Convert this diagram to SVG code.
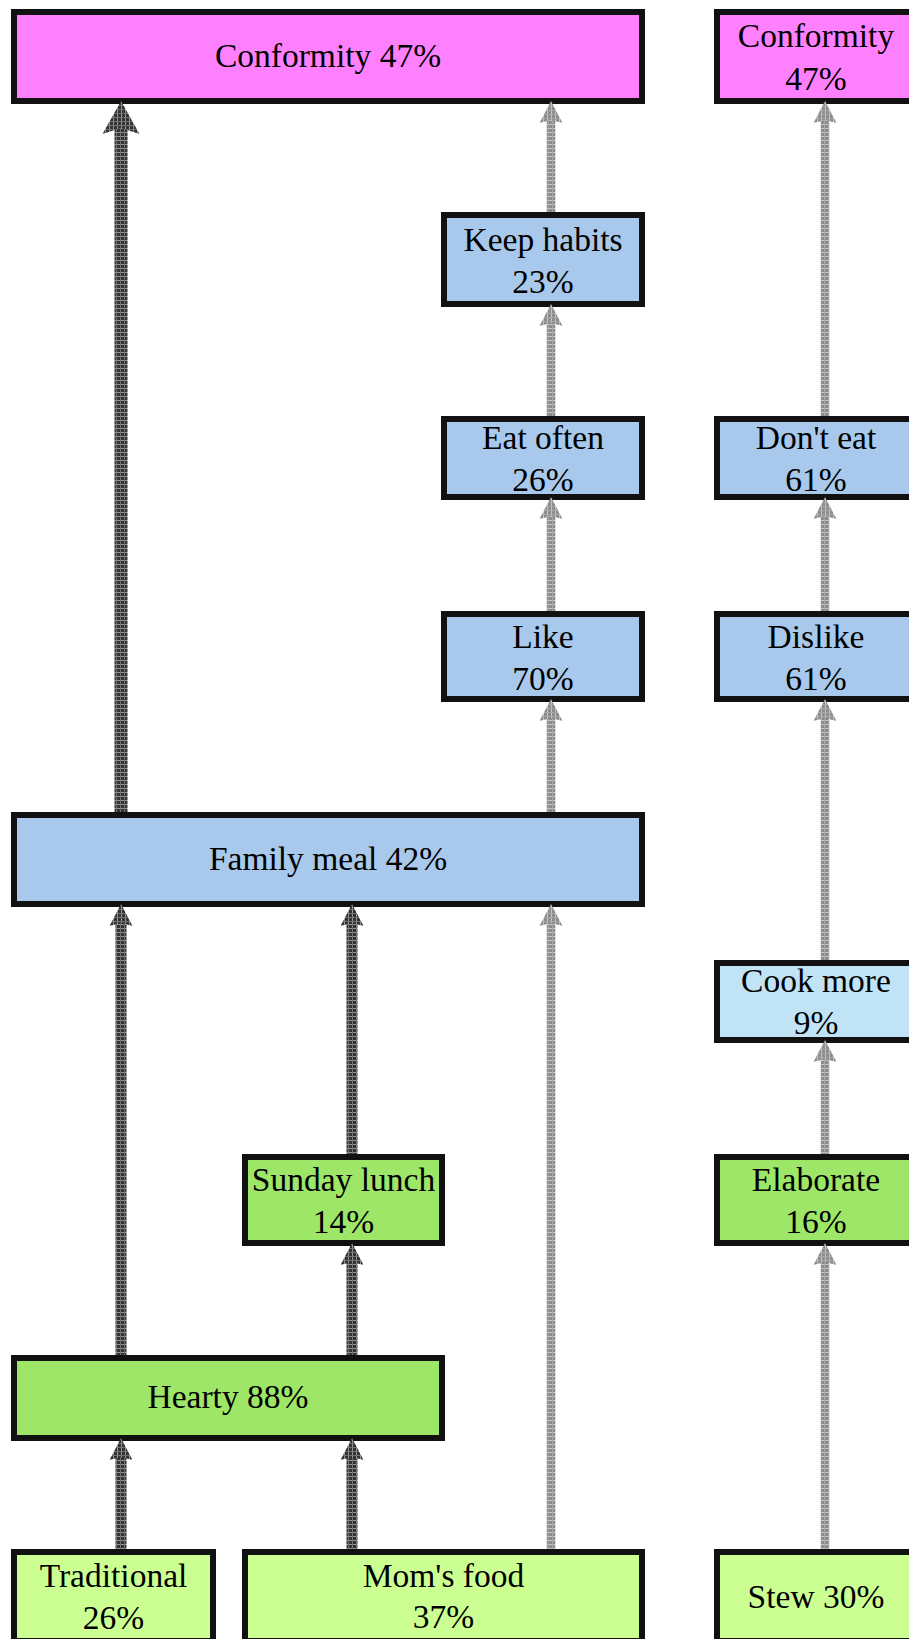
<svg xmlns="http://www.w3.org/2000/svg" width="909" height="1639" viewBox="0 0 909 1639">
  <style>
    .box { stroke: #111111; stroke-width: 6; }
    .pink { fill: #ff80ff; }
    .blue { fill: #a8c9eb; }
    .sky { fill: #c0e4f5; }
    .green { fill: #9ee667; }
    .lime { fill: #ccff91; }
    .lbl { font-family: "Liberation Serif", "Times New Roman", serif; font-size: 33.5px; text-anchor: middle; fill: #000000; }
    .edge { fill: none; stroke-linecap: butt; }
    .dark { stroke: url(#texDark); stroke-width: 11; marker-end: url(#headDark); }
    .darkBig { stroke: url(#texDark); stroke-width: 13; marker-end: url(#headBig); }
    .light { stroke: url(#texLight); stroke-width: 8.5; marker-end: url(#headLight); }
  </style>
  <defs>
    <!-- hatched textures used for the connector shafts and heads -->
    <pattern id="texDark" patternUnits="userSpaceOnUse" width="4" height="4">
      <rect width="4" height="4" fill="#333333"/>
      <rect width="4" height="1" fill="#959595"/>
      <rect width="1" height="4" fill="#737373"/>
    </pattern>
    <pattern id="texLight" patternUnits="userSpaceOnUse" width="4" height="4">
      <rect width="4" height="4" fill="#8c8c8c"/>
      <rect width="4" height="1" fill="#c6c6c6"/>
      <rect width="1" height="4" fill="#a8a8a8"/>
    </pattern>
    <marker id="headDark" markerUnits="userSpaceOnUse" viewBox="0 -12 22 24" markerWidth="22" markerHeight="24" refX="4" refY="0" orient="auto" overflow="visible">
      <path d="M0,-11.5 L22,0 L0,11.5 L3,0 Z" fill="url(#texDark)"/>
    </marker>
    <marker id="headLight" markerUnits="userSpaceOnUse" viewBox="0 -12 22 24" markerWidth="22" markerHeight="24" refX="4" refY="0" orient="auto" overflow="visible">
      <path d="M0,-11.5 L22,0 L0,11.5 L3,0 Z" fill="url(#texLight)"/>
    </marker>
    <marker id="headBig" markerUnits="userSpaceOnUse" viewBox="0 -19 33 38" markerWidth="33" markerHeight="38" refX="7" refY="0" orient="auto" overflow="visible">
      <path d="M0,-18.5 L33,0 L0,18.5 L6,0 Z" fill="url(#texDark)"/>
    </marker>
  </defs>

  <rect width="909" height="1639" fill="#ffffff"/>

  <!-- nodes -->
  <g id="conformity-left">
    <rect class="box pink" x="14" y="12" width="628" height="89"/>
    <text class="lbl" x="328" y="67">Conformity 47%</text>
  </g>
  <g id="conformity-right">
    <rect class="box pink" x="717" y="12" width="198" height="89"/>
    <text class="lbl" x="816" y="47">Conformity</text>
    <text class="lbl" x="816" y="89.5">47%</text>
  </g>
  <g id="keep-habits">
    <rect class="box blue" x="444" y="215" width="198" height="89"/>
    <text class="lbl" x="543" y="250.5">Keep habits</text>
    <text class="lbl" x="543" y="292.5">23%</text>
  </g>
  <g id="eat-often">
    <rect class="box blue" x="444" y="419" width="198" height="78"/>
    <text class="lbl" x="543" y="449">Eat often</text>
    <text class="lbl" x="543" y="491">26%</text>
  </g>
  <g id="dont-eat">
    <rect class="box blue" x="717" y="419" width="198" height="78"/>
    <text class="lbl" x="816" y="449">Don't eat</text>
    <text class="lbl" x="816" y="491">61%</text>
  </g>
  <g id="like">
    <rect class="box blue" x="444" y="614" width="198" height="85"/>
    <text class="lbl" x="543" y="648">Like</text>
    <text class="lbl" x="543" y="690">70%</text>
  </g>
  <g id="dislike">
    <rect class="box blue" x="717" y="614" width="198" height="85"/>
    <text class="lbl" x="816" y="648">Dislike</text>
    <text class="lbl" x="816" y="690">61%</text>
  </g>
  <g id="family-meal">
    <rect class="box blue" x="14" y="815" width="628" height="89"/>
    <text class="lbl" x="328" y="870">Family meal 42%</text>
  </g>
  <g id="cook-more">
    <rect class="box sky" x="717" y="963" width="198" height="77"/>
    <text class="lbl" x="816" y="992">Cook more</text>
    <text class="lbl" x="816" y="1033.5">9%</text>
  </g>
  <g id="sunday-lunch">
    <rect class="box green" x="245" y="1157" width="197" height="86"/>
    <text class="lbl" x="343.5" y="1191">Sunday lunch</text>
    <text class="lbl" x="343.5" y="1233">14%</text>
  </g>
  <g id="elaborate">
    <rect class="box green" x="717" y="1157" width="198" height="86"/>
    <text class="lbl" x="816" y="1191">Elaborate</text>
    <text class="lbl" x="816" y="1233">16%</text>
  </g>
  <g id="hearty">
    <rect class="box green" x="14" y="1358" width="428" height="80"/>
    <text class="lbl" x="228" y="1408">Hearty 88%</text>
  </g>
  <g id="traditional">
    <rect class="box lime" x="14" y="1552" width="199" height="89"/>
    <text class="lbl" x="113.5" y="1587">Traditional</text>
    <text class="lbl" x="113.5" y="1628.5">26%</text>
  </g>
  <g id="moms-food">
    <rect class="box lime" x="245" y="1552" width="397" height="89"/>
    <text class="lbl" x="443.5" y="1586.5">Mom's food</text>
    <text class="lbl" x="443.5" y="1628">37%</text>
  </g>
  <g id="stew">
    <rect class="box lime" x="717" y="1552" width="198" height="89"/>
    <text class="lbl" x="816" y="1608">Stew 30%</text>
  </g>

  <!-- connectors: each runs from the top of its source up to the bottom of its target -->
  <g id="connectors">
    <line class="edge darkBig" x1="121" y1="812" x2="121" y2="127"/>
    <line class="edge light" x1="551" y1="212" x2="551" y2="119"/>
    <line class="edge light" x1="551" y1="416" x2="551" y2="322"/>
    <line class="edge light" x1="551" y1="611" x2="551" y2="515"/>
    <line class="edge light" x1="551" y1="812" x2="551" y2="717"/>
    <line class="edge light" x1="825" y1="416" x2="825" y2="119"/>
    <line class="edge light" x1="825" y1="611" x2="825" y2="515"/>
    <line class="edge light" x1="825" y1="960" x2="825" y2="717"/>
    <line class="edge light" x1="825" y1="1154" x2="825" y2="1058"/>
    <line class="edge light" x1="825" y1="1549" x2="825" y2="1261"/>
    <line class="edge dark" x1="121" y1="1355" x2="121" y2="922"/>
    <line class="edge dark" x1="352" y1="1154" x2="352" y2="922"/>
    <line class="edge dark" x1="352" y1="1355" x2="352" y2="1261"/>
    <line class="edge dark" x1="121" y1="1549" x2="121" y2="1456"/>
    <line class="edge dark" x1="352" y1="1549" x2="352" y2="1456"/>
    <line class="edge light" x1="551" y1="1549" x2="551" y2="922"/>
  </g>
</svg>
